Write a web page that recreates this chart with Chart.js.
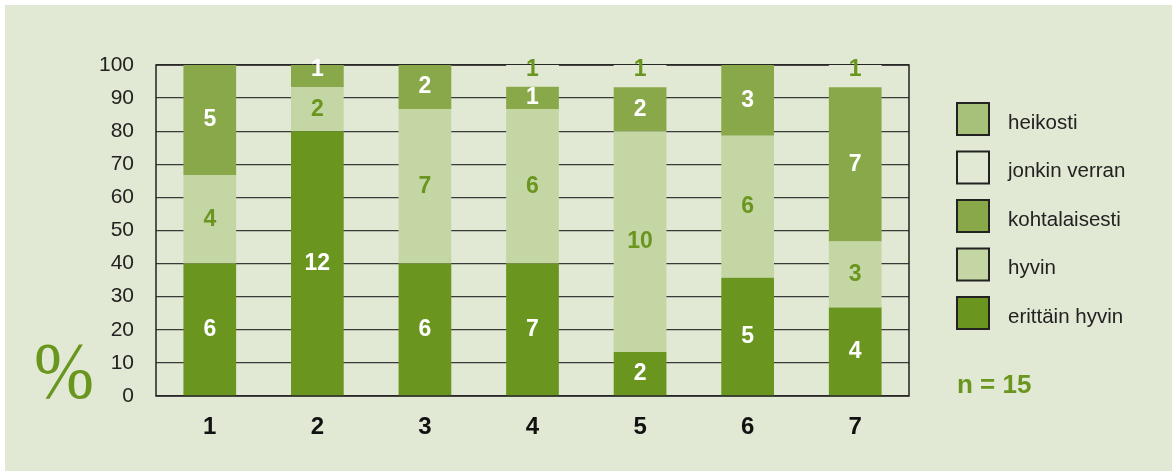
<!DOCTYPE html>
<html>
<head>
<meta charset="utf-8">
<script src="https://cdn.jsdelivr.net/npm/chart.js@4/dist/chart.umd.min.js"></script>
<style>
  body { margin: 0; background: #ffffff; }
  #wrap { position: absolute; left: 5px; top: 5px; width: 1167px; height: 466px; background: #e1e8d3; }
</style>
</head>
<body>
<div id="wrap"><canvas id="chart" width="1167" height="466"></canvas></div>
<script>
const categories = ['1', '2', '3', '4', '5', '6', '7'];

// bar heights in % as drawn
const erittainHyvinPct = [40, 80, 40, 40, 13.3, 35.7, 26.7];
const hyvinPct = [26.7, 13.3, 46.7, 46.7, 66.7, 42.9, 20];
const kohtalaisestiPct = [33.3, 6.7, 13.3, 6.7, 13.3, 21.4, 46.6];
const jonkinVerranPct = [0, 0, 0, 6.6, 6.7, 0, 6.7];
const heikostiPct = [0, 0, 0, 0, 0, 0, 0];

// counts printed in the segments
const erittainHyvin = [6, 12, 6, 7, 2, 5, 4];
const hyvin = [4, 2, 7, 6, 10, 6, 3];
const kohtalaisesti = [5, 1, 2, 1, 2, 3, 7];
const jonkinVerran = [0, 0, 0, 1, 1, 0, 1];
const heikosti = [0, 0, 0, 0, 0, 0, 0];

const yTicks = [0, 10, 20, 30, 40, 50, 60, 70, 80, 90, 100];
const nText = 'n = 15';

const green = '#6a961f';

function makeSet(label, values, counts, color, textColor) {
    return {
        label: label,
        data: values,
        counts: counts,
        backgroundColor: color,
        textColor: textColor,
        borderWidth: 0,
        barPercentage: 0.49,
        categoryPercentage: 1
    };
}

const overlay = {
    id: 'overlay',
    beforeDatasetsDraw(chart) {
        const { ctx, chartArea: a } = chart;
        ctx.save();
        ctx.strokeStyle = '#222';
        ctx.lineWidth = 1.5;
        ctx.strokeRect(a.left, a.top, a.right - a.left, a.bottom - a.top);
        ctx.restore();
    },
    afterDraw(chart) {
        const { ctx, chartArea: a } = chart;
        ctx.save();
        // segment labels
        ctx.font = 'bold 23px "Liberation Sans", Arial, sans-serif';
        ctx.textAlign = 'center';
        ctx.textBaseline = 'middle';
        chart.data.datasets.forEach((ds, di) => {
            const meta = chart.getDatasetMeta(di);
            meta.data.forEach((bar, i) => {
                const n = ds.counts[i];
                if (!n) return;
                let y = (bar.y + bar.base) / 2;
                if (Math.abs(bar.y - a.top) < 2 && bar.base - bar.y < 30) y -= 6;
                ctx.fillStyle = ds.textColor;
                ctx.fillText(String(n), bar.x, y);
            });
        });

        // legend, top to bottom in reverse stack order
        const sets = chart.data.datasets.slice().reverse();
        ctx.textAlign = 'left';
        ctx.font = '20.5px "Liberation Sans", Arial, sans-serif';
        sets.forEach((ds, k) => {
            const bx = 952, by = 98 + k * 48.5;
            ctx.fillStyle = ds.backgroundColor;
            ctx.fillRect(bx, by, 32, 32);
            ctx.strokeStyle = '#222';
            ctx.lineWidth = 2;
            ctx.strokeRect(bx, by, 32, 32);
            ctx.fillStyle = '#222';
            ctx.fillText(ds.label, 1003, by + 20);
        });

        ctx.fillStyle = green;
        ctx.font = 'bold 26px "Liberation Sans", Arial, sans-serif';
        ctx.fillText(nText, 952, 381);

        // big percent sign
        ctx.translate(59, 372);
        ctx.scale(0.9, 1);
        ctx.font = '80px "Liberation Serif", serif';
        ctx.textAlign = 'center';
        ctx.fillText('%', 0, 0);
        ctx.restore();
    }
};

new Chart(document.getElementById('chart'), {
    type: 'bar',
    data: {
        labels: categories,
        datasets: [
            makeSet('erittäin hyvin', erittainHyvinPct, erittainHyvin, '#6a961f', '#ffffff'),
            makeSet('hyvin', hyvinPct, hyvin, '#c5d6a5', green),
            makeSet('kohtalaisesti', kohtalaisestiPct, kohtalaisesti, '#88a84a', '#ffffff'),
            makeSet('jonkin verran', jonkinVerranPct, jonkinVerran, '#e1e8d3', green),
            makeSet('heikosti', heikostiPct, heikosti, '#a7c07a', '#ffffff')
        ]
    },
    options: {
        responsive: false,
        animation: false,
        layout: { padding: { left: 0, top: 60, right: 263, bottom: 0 } },
        plugins: {
            legend: { display: false },
            tooltip: { enabled: false }
        },
        scales: {
            x: {
                stacked: true,
                grid: { display: false },
                border: { display: false },
                ticks: {
                    color: '#111',
                    padding: 9,
                    font: { family: '"Liberation Sans", Arial, sans-serif', size: 24, weight: 'bold' }
                },
                afterFit: s => { s.height = 75; }
            },
            y: {
                stacked: true,
                min: 0,
                max: 100,
                afterBuildTicks: s => { s.ticks = yTicks.map(v => ({ value: v })); },
                grid: { color: '#3a3a3a', lineWidth: 1.3, drawTicks: false },
                border: { display: false },
                ticks: {
                    color: '#222',
                    padding: 22,
                    font: { family: '"Liberation Sans", Arial, sans-serif', size: 21 }
                },
                afterFit: s => { s.width = 151; }
            }
        }
    },
    plugins: [overlay]
});
</script>
</body>
</html>
